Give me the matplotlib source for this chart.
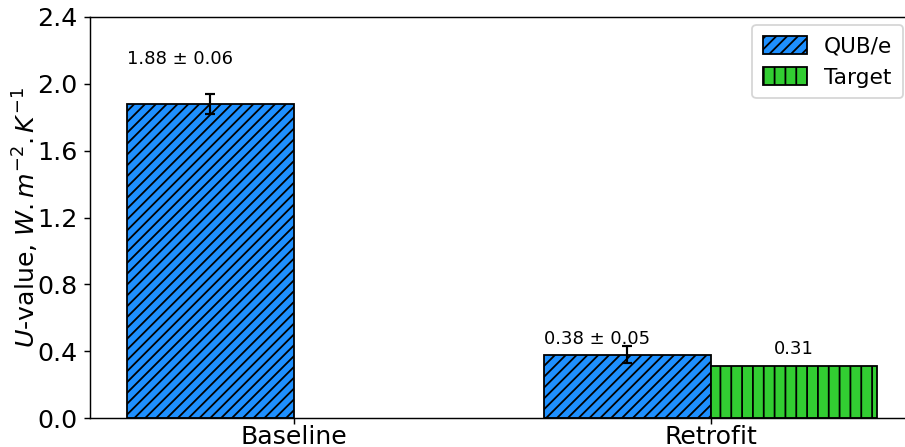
import numpy as np
import matplotlib
matplotlib.use('Agg')
import matplotlib.pyplot as plt

# Data
categories = ['Baseline', 'Retrofit']
qub_values = [1.88, 0.38]
qub_errors = [0.06, 0.05]
target_values = [0.0, 0.31]
yticks = [0.0, 0.4, 0.8, 1.2, 1.6, 2.0, 2.4]

DPI = 130
fig = plt.figure(figsize=(905 / DPI, 447 / DPI), dpi=DPI)
ax = fig.add_axes([90 / 905, 29 / 447, 820 / 905, 401 / 447])

x = np.arange(len(categories))
width = 0.4
plt.rcParams['hatch.linewidth'] = 1.0

# QUB/e bars (left of tick), Target bars (right of tick)
ax.bar(x - width / 2, qub_values, width, color='#1E90FF', edgecolor='black',
       hatch='////', linewidth=1.0, label='QUB/e')
ax.errorbar(x - width / 2, qub_values, yerr=qub_errors, fmt='none',
            ecolor='black', capsize=3, elinewidth=1.2, capthick=1.2)
has_target = np.array(target_values) > 0
ax.bar(x[has_target] + width / 2, np.array(target_values)[has_target], width,
       color='#32CD32', edgecolor='black', hatch='||', linewidth=1.0,
       label='Target')

# value labels
label_offsets = [0.27, 0.09]
for i, (v, e) in enumerate(zip(qub_values, qub_errors)):
    ax.text(x[i] - width, v + label_offsets[i], f'{v:.2f} \u00b1 {e:.2f}',
            ha='left', va='center', fontsize=10)
for i, v in enumerate(target_values):
    if v > 0:
        ax.text(x[i] + width / 2, v + 0.1, f'{v:.2f}', ha='center',
                va='center', fontsize=10)

ax.set_xlim(-0.489, 1.478)
ax.set_ylim(0, 2.4)
ax.set_yticks(yticks)
ax.set_xticks(x)
ax.set_xticklabels(categories)
ax.tick_params(labelsize=14)
ax.tick_params(axis='x', pad=0.5)
ax.set_ylabel('$U$-value, $W.m^{-2}.K^{-1}$', fontsize=14)
ax.yaxis.set_label_coords(-0.06, 0.5)

ax.legend(loc='upper right', bbox_to_anchor=(903 / 905, 1 - 25 / 447),
          bbox_transform=fig.transFigure, borderaxespad=0, fontsize=12,
          handlelength=2.0, handleheight=0.9, borderpad=0.5)

fig.savefig('out.png', dpi=DPI)
